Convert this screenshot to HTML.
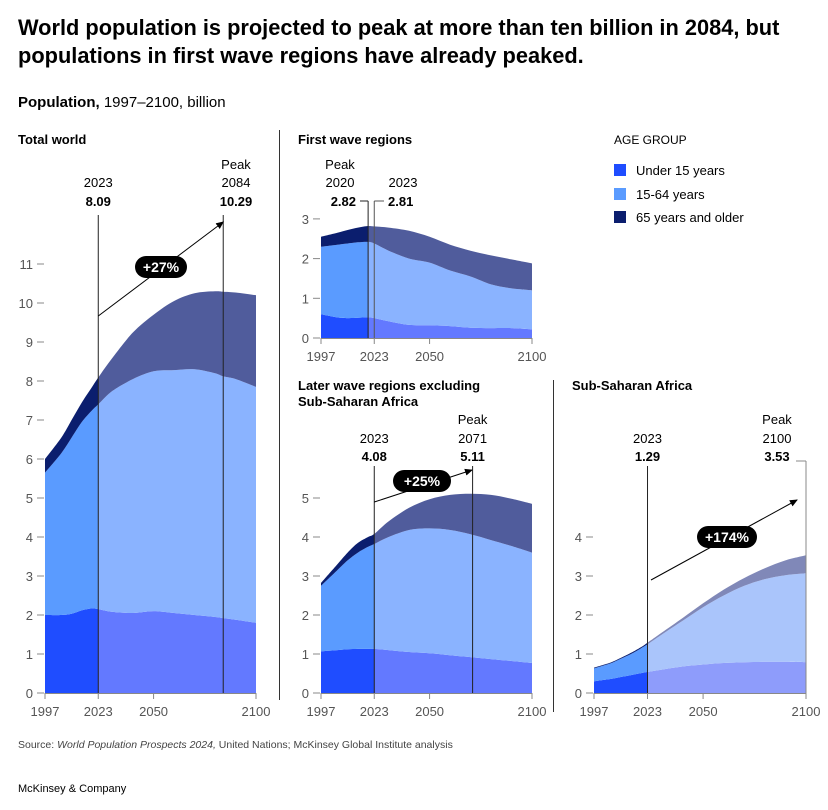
<!DOCTYPE html>
<html><head><meta charset="utf-8">
<style>
body{margin:0;background:#fff;font-family:"Liberation Sans",sans-serif;}
svg text{font-family:"Liberation Sans",sans-serif;}
</style></head>
<body>
<svg id="chart" width="828" height="805" viewBox="0 0 828 805" xmlns="http://www.w3.org/2000/svg">
<defs>
<marker id="arr" markerWidth="8" markerHeight="8" refX="7" refY="4" orient="auto"><path d="M0,0.5 L8,4 L0,7.5 z" fill="#000"/></marker>
</defs>
<text x="18" y="35" font-size="21.8" font-weight="bold" fill="#000">World population is projected to peak at more than ten billion in 2084, but</text>
<text x="18" y="63" font-size="21.8" font-weight="bold" fill="#000">populations in first wave regions have already peaked.</text>
<text x="18" y="107" font-size="15" fill="#000"><tspan font-weight="bold">Population,</tspan> 1997–2100, billion</text>

<text x="18" y="144" font-size="13" font-weight="bold">Total world</text>
<text x="298" y="144" font-size="13" font-weight="bold">First wave regions</text>
<text x="298" y="390" font-size="13" font-weight="bold">Later wave regions excluding</text>
<text x="298" y="406" font-size="13" font-weight="bold">Sub-Saharan Africa</text>
<text x="572" y="390" font-size="13" font-weight="bold">Sub-Saharan Africa</text>

<line x1="279.5" y1="130" x2="279.5" y2="700" stroke="#333" stroke-width="1"/>
<line x1="553.5" y1="380" x2="553.5" y2="712" stroke="#333" stroke-width="1"/>

<g>
<text x="614" y="144" font-size="12">AGE GROUP</text>
<rect x="614" y="164" width="12" height="12" fill="#1f4dff"/>
<text x="636" y="175" font-size="13">Under 15 years</text>
<rect x="614" y="188" width="12" height="12" fill="#5a9bff"/>
<text x="636" y="199" font-size="13">15-64 years</text>
<rect x="614" y="211" width="12" height="12" fill="#0b1e6e"/>
<text x="636" y="222" font-size="13">65 years and older</text>
</g>

<text x="18" y="748" font-size="10.5" fill="#444">Source: <tspan font-style="italic">World Population Prospects 2024,</tspan> United Nations; McKinsey Global Institute analysis</text>
<text x="18" y="792" font-size="11" fill="#000">McKinsey &amp; Company</text>
<g id="panels"></g>
</svg>
<script>
// ---- Data (billions) ----
const worldYears = [1997,2005,2010,2015,2020,2023,2030,2040,2050,2060,2070,2080,2084,2090,2100];
const worldUnder15 = [2.0,2.0,2.03,2.12,2.17,2.15,2.08,2.05,2.1,2.05,2.0,1.95,1.92,1.88,1.8];
const worldWorking = [3.65,4.15,4.52,4.83,5.08,5.25,5.67,6.0,6.15,6.23,6.3,6.25,6.2,6.17,6.05];
const worldOlder = [0.35,0.4,0.45,0.5,0.6,0.69,0.85,1.2,1.45,1.77,1.95,2.1,2.17,2.22,2.35];

const firstYears = [1997,2005,2010,2015,2020,2023,2030,2040,2050,2060,2070,2080,2090,2100];
const firstUnder15 = [0.6,0.52,0.5,0.51,0.52,0.5,0.42,0.33,0.32,0.3,0.26,0.25,0.25,0.22];
const firstWorking = [1.7,1.83,1.88,1.9,1.9,1.88,1.78,1.67,1.58,1.4,1.29,1.1,1.0,0.98];
const firstOlder = [0.25,0.3,0.34,0.37,0.4,0.43,0.58,0.7,0.65,0.65,0.65,0.73,0.73,0.68];

const laterYears = [1997,2005,2010,2015,2020,2023,2030,2040,2050,2060,2070,2080,2090,2100];
const laterUnder15 = [1.07,1.1,1.12,1.13,1.13,1.13,1.1,1.05,1.02,0.97,0.92,0.87,0.82,0.77];
const laterWorking = [1.68,2.05,2.28,2.47,2.62,2.69,2.9,3.13,3.2,3.21,3.15,3.05,2.95,2.83];
const laterOlder = [0.07,0.15,0.2,0.25,0.25,0.26,0.4,0.57,0.75,0.9,1.04,1.16,1.21,1.25];

const ssaYears = [1997,2005,2010,2015,2020,2023,2030,2040,2050,2060,2070,2080,2090,2100];
const ssaUnder15 = [0.3,0.36,0.41,0.46,0.51,0.54,0.6,0.68,0.73,0.77,0.79,0.8,0.8,0.79];
const ssaWorking = [0.33,0.4,0.47,0.54,0.64,0.71,0.9,1.17,1.47,1.73,1.96,2.12,2.22,2.28];
const ssaOlder = [0.02,0.02,0.02,0.03,0.03,0.04,0.05,0.07,0.1,0.15,0.2,0.28,0.38,0.46];

const worldTicks = [0,1,2,3,4,5,6,7,8,9,10,11];
const firstTicks = [0,1,2,3];
const laterTicks = [0,1,2,3,4,5];
const ssaTicks = [0,1,2,3,4];
const xTickYears = [1997,2023,2050,2100];

const NS = "http://www.w3.org/2000/svg";
const root = document.getElementById('panels');
function el(tag, attrs, parent){const e=document.createElementNS(NS,tag);for(const k in attrs)e.setAttribute(k,attrs[k]);(parent||root).appendChild(e);return e;}

// smooth path through points (Catmull-Rom -> cubic bezier), continuing from current point
function smooth(pts){
  let d='';
  for(let i=0;i<pts.length-1;i++){
    const p0=pts[Math.max(0,i-1)],p1=pts[i],p2=pts[i+1],p3=pts[Math.min(pts.length-1,i+2)];
    const t=0.16;
    const c1x=p1[0]+(p2[0]-p0[0])*t, c1y=p1[1]+(p2[1]-p0[1])*t;
    const c2x=p2[0]-(p3[0]-p1[0])*t, c2y=p2[1]-(p3[1]-p1[1])*t;
    d+=' C'+c1x.toFixed(1)+','+c1y.toFixed(1)+' '+c2x.toFixed(1)+','+c2y.toFixed(1)+' '+p2[0].toFixed(1)+','+p2[1].toFixed(1);
  }
  return d;
}

const panels = [
 {key:'world',years:worldYears,s:[worldUnder15,worldWorking,worldOlder],ticks:worldTicks,x0:45,x1:256,y0:693,unit:39,
  before:['#1f4dff','#5a9bff','#0b1e6e'],after:['#6379ff','#8ab3ff','#505c9c']},
 {key:'first-wave',years:firstYears,s:[firstUnder15,firstWorking,firstOlder],ticks:firstTicks,x0:321,x1:532,y0:338,unit:39.7,
  before:['#1f4dff','#5a9bff','#0b1e6e'],after:['#6379ff','#8ab3ff','#505c9c'],splitYear:2020},
 {key:'later-wave',years:laterYears,s:[laterUnder15,laterWorking,laterOlder],ticks:laterTicks,x0:321,x1:532,y0:693,unit:39,
  before:['#1f4dff','#5a9bff','#0b1e6e'],after:['#6379ff','#8ab3ff','#505c9c']},
 {key:'ssa',years:ssaYears,s:[ssaUnder15,ssaWorking,ssaOlder],ticks:ssaTicks,x0:594,x1:806,y0:693,unit:39,
  before:['#1f4dff','#5a9bff','#0b1e6e'],after:['#8e9cfb','#aac5fb','#8088b8']}
];

panels.forEach((p,pi)=>{
  const g = el('g',{});
  
  
  const xs = y => p.x0 + (y-1997)/(2100-1997)*(p.x1-p.x0);
  const ys = v => p.y0 - v*p.unit;
  p.xs = xs; p.ys = ys;
  const split = xs(p.splitYear||2023);
  const cid = 'clip'+pi;
  const defs = el('defs',{},g);
  const c1 = el('clipPath',{id:cid+'a'},defs); el('rect',{x:0,y:0,width:split,height:805},c1);
  const c2 = el('clipPath',{id:cid+'b'},defs); el('rect',{x:split,y:0,width:828,height:805},c2);
  const names=['under15','15-64','65plus'];
  ['a','b'].forEach(side=>{
    let base = p.years.map(()=>0);
    p.s.forEach((ser,si)=>{
      const top = base.map((b,i)=>b+ser[i]);
      const tp = p.years.map((yr,i)=>[xs(yr),ys(top[i])]);
      const bp = p.years.map((yr,i)=>[xs(yr),ys(base[i])]).reverse();
      let d = 'M'+tp[0][0].toFixed(1)+','+tp[0][1].toFixed(1)+smooth(tp)+' L'+bp[0][0].toFixed(1)+','+bp[0][1].toFixed(1)+smooth(bp)+' Z';
      const a = el('path',{d:d,fill:(side==='a'?p.before:p.after)[si],'clip-path':'url(#'+cid+side+')'},g);
      
      
      base = top;
    });
  });
  p.ticks.forEach(t=>{
    const tx = el('text',{x:p.x0-12,y:ys(t)+5,'font-size':13,fill:'#555','text-anchor':'end'},g);
    tx.textContent = t;
    
    
    const l = el('line',{x1:p.x0-8,x2:p.x0-1,y1:ys(t),y2:ys(t),stroke:'#888','stroke-width':1},g);
    
    
  });
  const ax = el('line',{x1:p.x0,x2:p.x1,y1:p.y0+0.5,y2:p.y0+0.5,stroke:'#888'},g);
  
  
  xTickYears.forEach(yr=>{
    const l = el('line',{x1:xs(yr),x2:xs(yr),y1:p.y0,y2:p.y0+6,stroke:'#888'},g);
    
    
    const t = el('text',{x:xs(yr),y:p.y0+23,'font-size':13,fill:'#555','text-anchor':'middle'},g);
    t.textContent = yr;
    
    
  });
});

function txt(x,y,s,opts){const t=el('text',Object.assign({x:x,y:y,'font-size':13,'text-anchor':'middle',fill:'#000'},opts||{}));t.textContent=s;return t;}
function vline(x,y1,y2,col){return el('line',{x1:x,x2:x,y1:y1,y2:y2,stroke:col||'#222','stroke-width':1});}
function pill(cx,cy,w,s){
  const r = el('rect',{x:cx-w/2,y:cy-11,width:w,height:22,rx:11,fill:'#000'});
  
  
  const t = txt(cx,cy+5,s,{fill:'#fff','font-weight':'bold','font-size':14});
  
  
}
function arrow(x1,y1,x2,y2){const a=el('line',{x1:x1,y1:y1,x2:x2,y2:y2,stroke:'#000','stroke-width':1,'marker-end':'url(#arr)'});}
function ann(arr){arr.forEach(a=>{const t=txt(a[0],a[1],a[2],a[3]);});}

(function(){const p=panels[0];const x23=p.xs(2023),xp=p.xs(2084);
 vline(x23,215,693);
 vline(xp,215,693);
 ann([[x23,187,'2023',{},'label-2023'],[x23,206,'8.09',{'font-weight':'bold'},'value-2023'],
  [236,169,'Peak',{},'label-peak'],[236,187,'2084',{},'label-peak-year'],[236,206,'10.29',{'font-weight':'bold'},'value-peak']]);
 arrow(x23,316,xp,222); pill(161,267,52,'+27%');})();
(function(){const p=panels[1];const x20=p.xs(2020),x23=p.xs(2023);
 vline(x20,201,338);
 el('line',{x1:360,x2:x20,y1:201,y2:201,stroke:'#222'});
 vline(x23,201,338,'#555');
 el('line',{x1:x23,x2:384,y1:201,y2:201,stroke:'#555'});
 ann([[340,169,'Peak',{},'label-peak'],[340,187,'2020',{},'label-peak-year'],[356,206,'2.82',{'font-weight':'bold','text-anchor':'end'},'value-peak'],
  [403,187,'2023',{},'label-2023'],[388,206,'2.81',{'font-weight':'bold','text-anchor':'start'},'value-2023']]);})();
(function(){const p=panels[2];const x23=p.xs(2023),xp=p.xs(2071);
 vline(x23,466,693);
 vline(xp,466,693);
 ann([[x23,443,'2023',{},'label-2023'],[x23,461,'4.08',{'font-weight':'bold'},'value-2023'],
  [xp,424,'Peak',{},'label-peak'],[xp,443,'2071',{},'label-peak-year'],[xp,461,'5.11',{'font-weight':'bold'},'value-peak']]);
 arrow(x23,502,472,470); pill(422,481,58,'+25%');})();
(function(){const p=panels[3];const x23=p.xs(2023);
 vline(x23,466,693);
 vline(806,461,693,'#888');
 el('line',{x1:796,x2:806,y1:461,y2:461,stroke:'#888'});
 ann([[x23,443,'2023',{},'label-2023'],[x23,461,'1.29',{'font-weight':'bold'},'value-2023'],
  [777,424,'Peak',{},'label-peak'],[777,443,'2100',{},'label-peak-year'],[777,461,'3.53',{'font-weight':'bold'},'value-peak']]);
 arrow(651,580,797,500); pill(727,537,60,'+174%');})();
</script>
</body></html>
